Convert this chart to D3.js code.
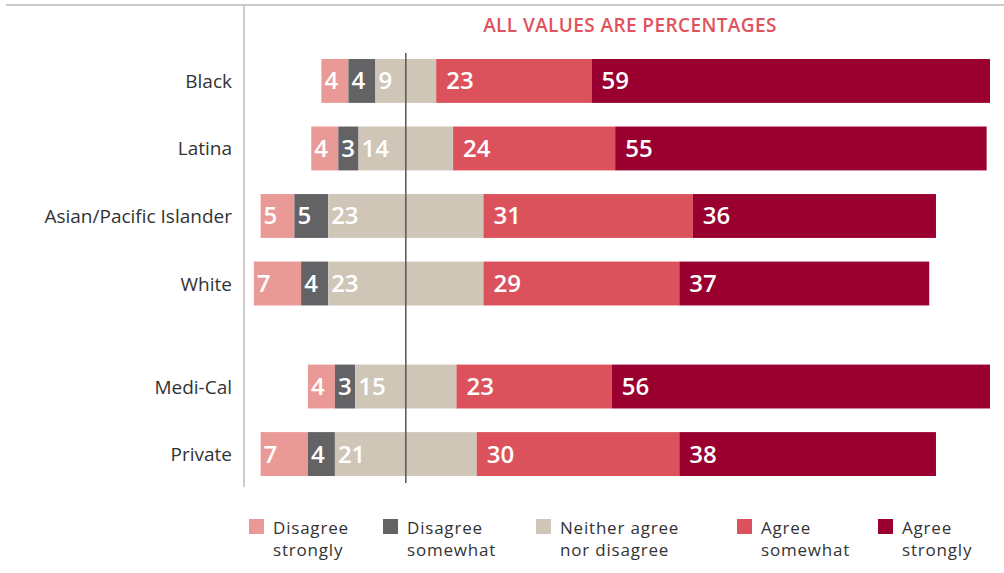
<!DOCTYPE html>
<html><head><meta charset="utf-8">
<script src="https://cdn.jsdelivr.net/npm/d3@7"></script>
<style>body{margin:0;background:#fff}svg{display:block}</style>
</head><body>
<svg id="c" width="1004" height="573"></svg>
<script>
const categories = ["Black","Latina","Asian/Pacific Islander","White","Medi-Cal","Private"];
const groupOf = [0,0,0,0,1,1];
const seriesNames = ["Disagree strongly","Disagree somewhat","Neither agree nor disagree","Agree somewhat","Agree strongly"];
const legendLines = [["Disagree","strongly"],["Disagree","somewhat"],["Neither agree","nor disagree"],["Agree","somewhat"],["Agree","strongly"]];
const disagreeStrongly = [4,4,5,7,4,7];
const disagreeSomewhat = [4,3,5,4,3,4];
const neither = [9,14,23,23,15,21];
const agreeSomewhat = [23,24,31,29,23,30];
const agreeStrongly = [59,55,36,37,56,38];
const colors = ["#ea9a96","#636365","#d0c6b8","#db525d","#990030"];
const title = "ALL VALUES ARE PERCENTAGES";

const series = [disagreeStrongly, disagreeSomewhat, neither, agreeSomewhat, agreeStrongly];
const svg = d3.select("#c");
const font = "'Open Sans', 'Noto Sans', sans-serif";

const x = d3.scaleLinear().domain([-24.7, 86.5]).range([239, 990]);
const groupGap = 35.5;
const yb = d3.scaleBand().domain(categories).range([59, 440.5]).paddingInner(0.35).paddingOuter(0);
const y = (c,i) => yb(c) + groupOf[i]*groupGap;

// top rule
svg.append("line").attr("x1",6).attr("x2",1004).attr("y1",5).attr("y2",5)
  .attr("stroke","#b8b8b8").attr("stroke-width",1.5);
// y axis line
svg.append("line").attr("x1",244).attr("x2",244).attr("y1",5).attr("y2",487)
  .attr("stroke","#bdbdbd").attr("stroke-width",1.5);

// title
svg.append("text").attr("x",630).attr("y",32).attr("text-anchor","middle")
  .attr("font-family",font).attr("font-weight",600).attr("font-size",19)
  .attr("fill","#e0535e").attr("letter-spacing",0.4).text(title);

// bars
categories.forEach((c,i)=>{
  let start = -(disagreeStrongly[i] + disagreeSomewhat[i] + neither[i]/2);
  const g = svg.append("g");
  series.forEach((s,k)=>{
    const v = s[i];
    const x0 = x(start), x1 = x(start+v);
    g.append("rect").attr("x",x0).attr("y",y(c,i)).attr("width",x1-x0).attr("height",yb.bandwidth())
      .attr("fill",colors[k]);
    g.append("text").attr("x",x0 + (k>=3?10:3)).attr("y",y(c,i)+yb.bandwidth()/2+8.5)
      .attr("font-family",font).attr("font-weight",600).attr("font-size",24)
      .attr("fill","#fff").text(v);
    start += v;
  });
  svg.append("text").attr("x",232).attr("y",y(c,i)+yb.bandwidth()/2+7)
    .attr("text-anchor","end").attr("font-family",font).attr("font-size",19)
    .attr("fill","#333").text(c);
});

// center line
svg.append("line").attr("x1",x(0)).attr("x2",x(0)).attr("y1",53).attr("y2",483)
  .attr("stroke","#555").attr("stroke-width",1.5);

// legend
const legendX = [249,383,536,737,878];
legendLines.forEach((ls,k)=>{
  svg.append("rect").attr("x",legendX[k]).attr("y",519).attr("width",15).attr("height",15).attr("fill",colors[k]);
  const t = svg.append("text").attr("font-family",font).attr("font-size",17).attr("letter-spacing",0.8).attr("fill","#333");
  ls.forEach((l,j)=>t.append("tspan").attr("x",legendX[k]+24).attr("y",534+j*21.5).text(l));
});
</script>
</body></html>
